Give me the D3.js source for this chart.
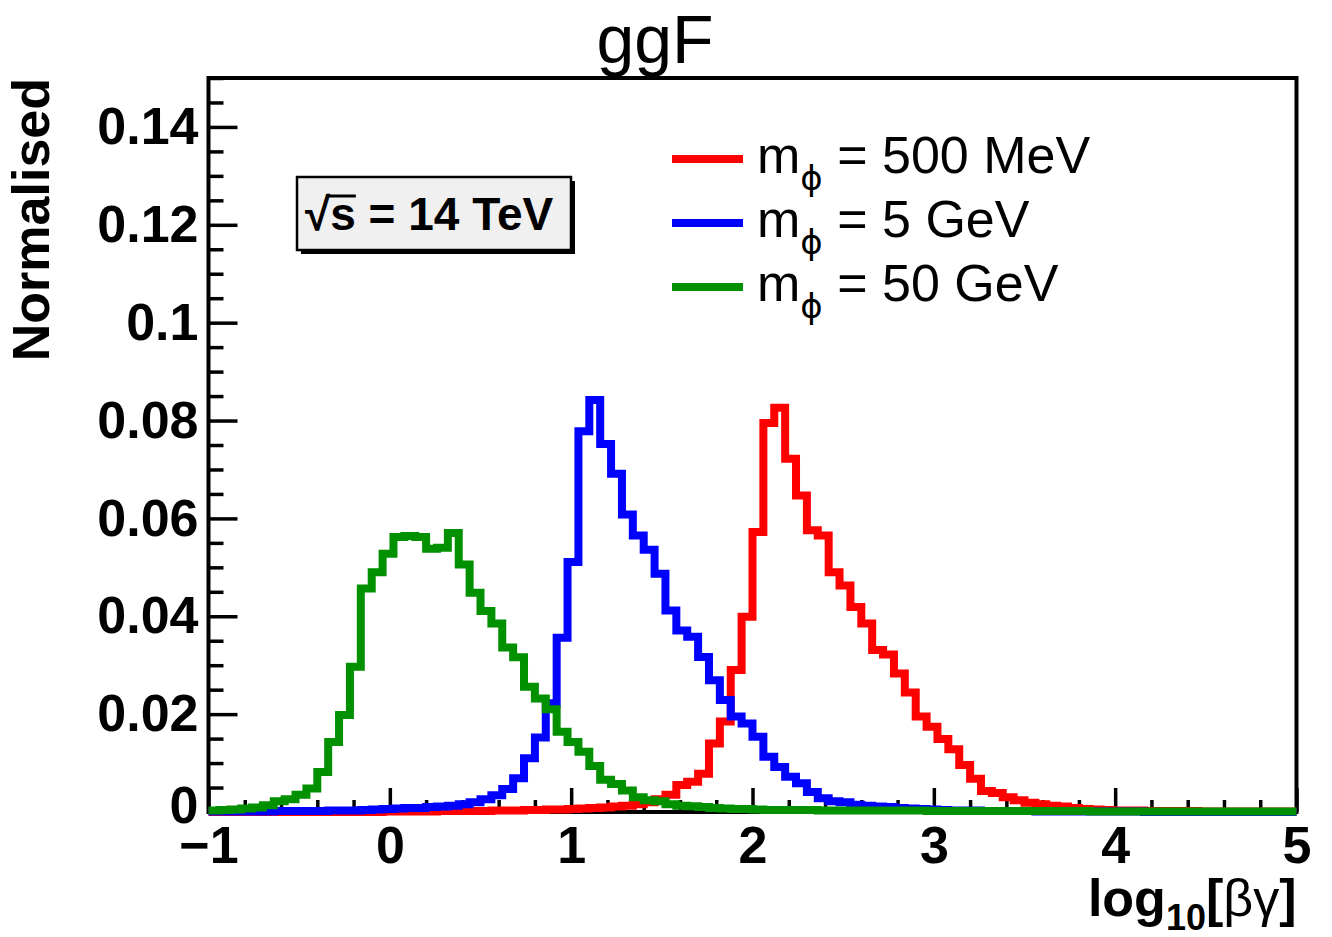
<!DOCTYPE html>
<html>
<head>
<meta charset="utf-8">
<script src="https://cdn.jsdelivr.net/npm/d3@7"></script>
<style>
  body { margin: 0; background: #fff; }
  svg text { font-family: "Liberation Sans", Arial, Helvetica, sans-serif; fill: #000; }
</style>
</head>
<body>
<svg id="chart"></svg>
<script>
// histogram binning: 100 bins from -1 to 5
const binLow = -1;
const binHigh = 5;
const nBins = 100;

// bin contents (normalised)
const mass500MeV = [
  0, 0, 0, 0, 0, 0, 0, 0, 0, 0,
  0, 0, 0, 0, 0, 0, 0.0001, 0.0001, 0.0001, 0.0001,
  0.0001, 0.0002, 0.0002, 0.0002, 0.0002, 0.0002, 0.0003, 0.0003, 0.0003, 0.0004,
  0.0004, 0.0005, 0.0005, 0.0006, 0.0007, 0.0008, 0.0009, 0.0011, 0.0013, 0.0016,
  0.0020, 0.0026, 0.0035, 0.0055, 0.0062, 0.0078, 0.0140, 0.0185, 0.0290, 0.0399,
  0.0572, 0.0795, 0.0826, 0.0722, 0.0647, 0.0576, 0.0565, 0.0490, 0.0463, 0.0419,
  0.0385, 0.0331, 0.0322, 0.0283, 0.0244, 0.0195, 0.0174, 0.0149, 0.0128, 0.0096,
  0.0068, 0.0043, 0.0039, 0.0030, 0.0024, 0.0019, 0.0016, 0.0013, 0.0011, 0.0008,
  0.0006, 0.0005, 0.0004, 0.0003, 0.0003, 0.0003, 0.0002, 0.0002, 0.0002, 0.0002,
  0.0002, 0.0001, 0.0001, 0.0001, 0.0001, 0.0001, 0.0001, 0.0001, 0.0001, 0.0001
];

const mass5GeV = [
  0.0001, 0.0001, 0.0001, 0.0001, 0.0001, 0.0001, 0.0002, 0.0002, 0.0002, 0.0002,
  0.0002, 0.0003, 0.0003, 0.0003, 0.0004, 0.0005, 0.0006, 0.0007, 0.0008, 0.0008,
  0.0010, 0.0011, 0.0013, 0.0016, 0.0020, 0.0026, 0.0034, 0.0047, 0.0069, 0.0110,
  0.0152, 0.0222, 0.0356, 0.0511, 0.0778, 0.0842, 0.0752, 0.0691, 0.0608, 0.0565,
  0.0536, 0.0487, 0.0412, 0.0371, 0.0358, 0.0317, 0.0269, 0.0229, 0.0195, 0.0181,
  0.0154, 0.0113, 0.0092, 0.0072, 0.0059, 0.0041, 0.0028, 0.0022, 0.0020, 0.0015,
  0.0013, 0.0011, 0.0010, 0.0008, 0.0007, 0.0006, 0.0005, 0.0004, 0.0003, 0.0003,
  0.0003, 0.0002, 0.0002, 0.0002, 0.0002, 0.0002, 0.0001, 0.0001, 0.0001, 0.0001,
  0.0001, 0.0001, 0.0001, 0.0001, 0.0001, 0.0001, 0, 0, 0, 0,
  0, 0, 0, 0, 0, 0, 0, 0, 0, 0
];

const mass50GeV = [
  0.0003, 0.0004, 0.0005, 0.0007, 0.0009, 0.0014, 0.0022, 0.0026, 0.0035, 0.0048,
  0.0082, 0.0143, 0.0198, 0.0297, 0.0457, 0.0490, 0.0528, 0.0562, 0.0564, 0.0562,
  0.0538, 0.0540, 0.0570, 0.0506, 0.0448, 0.0411, 0.0385, 0.0336, 0.0316, 0.0256,
  0.0232, 0.0210, 0.0164, 0.0143, 0.0123, 0.0094, 0.0066, 0.0057, 0.0044, 0.0030,
  0.0024, 0.0022, 0.0016, 0.0013, 0.0012, 0.0010, 0.0008, 0.0007, 0.0006, 0.0006,
  0.0005, 0.0004, 0.0004, 0.0004, 0.0004, 0.0004, 0.0003, 0.0003, 0.0003, 0.0003,
  0.0003, 0.0003, 0.0003, 0.0003, 0.0003, 0.0003, 0.0002, 0.0002, 0.0002, 0.0002,
  0.0002, 0.0002, 0.0002, 0.0002, 0.0002, 0.0002, 0.0002, 0.0002, 0.0002, 0.0002,
  0.0002, 0.0001, 0.0001, 0.0001, 0.0001, 0.0001, 0.0001, 0.0001, 0.0001, 0.0001,
  0.0001, 0.0001, 0.0001, 0.0001, 0.0001, 0.0001, 0.0001, 0.0001, 0.0001, 0.0001
];

const legendLabels = ["500 MeV", "5 GeV", "50 GeV"];
const seriesColors = ["#ff0000", "#0000ff", "#009000"];

const xTicks = [-1, 0, 1, 2, 3, 4, 5];
const xTickLabels = ["\u22121", "0", "1", "2", "3", "4", "5"];
const yTicks = [0, 0.02, 0.04, 0.06, 0.08, 0.1, 0.12, 0.14];
const yTickLabels = ["0", "0.02", "0.04", "0.06", "0.08", "0.1", "0.12", "0.14"];

const width = 1332;
const height = 937;
const frame = { left: 208.5, right: 1296.5, top: 78, bottom: 812 };

const svg = d3.select("#chart")
  .attr("width", width)
  .attr("height", height);

const xScale = d3.scaleLinear()
  .domain([binLow, binHigh])
  .range([frame.left, frame.right]);

const yScale = d3.scaleLinear()
  .domain([0, 0.15])
  .range([frame.bottom, frame.top]);

// title
svg.append("text")
  .attr("x", 655)
  .attr("y", 63)
  .attr("text-anchor", "middle")
  .style("font-size", "68px")
  .text("ggF");

// axes (ticks point into the frame, like ROOT)
const styleAxis = (g) => {
  g.select(".domain").remove();
  g.selectAll(".tick line").attr("stroke", "#000").attr("stroke-width", 3.5);
  g.selectAll("text")
    .style("font-size", "52px")
    .style("font-weight", "bold")
    .style("font-family", "'Liberation Sans', Arial, sans-serif")
    .attr("fill", "#000");
};

const xMinor = d3.range(-1, 5.0001, 0.2).filter(v => Math.abs(v - Math.round(v)) > 1e-6);
const yMinor = d3.range(0, 0.15001, 0.005).filter(v => Math.abs(v / 0.02 - Math.round(v / 0.02)) > 1e-6);

svg.append("g")
  .attr("transform", "translate(0," + frame.bottom + ")")
  .call(d3.axisBottom(xScale).tickValues(xMinor).tickSize(-12).tickFormat(""))
  .call(styleAxis);

svg.append("g")
  .attr("id", "x-axis")
  .attr("transform", "translate(0," + frame.bottom + ")")
  .call(d3.axisBottom(xScale)
    .tickValues(xTicks)
    .tickSize(-24)
    .tickPadding(14)
    .tickFormat((d, i) => xTickLabels[i]))
  .call(styleAxis);

svg.append("g")
  .attr("transform", "translate(" + frame.left + ",0)")
  .call(d3.axisLeft(yScale).tickValues(yMinor).tickSize(-15).tickFormat(""))
  .call(styleAxis);

svg.append("g")
  .attr("id", "y-axis")
  .attr("transform", "translate(" + frame.left + ",0)")
  .call(d3.axisLeft(yScale)
    .tickValues(yTicks)
    .tickSize(-29)
    .tickPadding(10)
    .tickFormat((d, i) => yTickLabels[i]))
  .call(styleAxis);

// the "0" label sits a bit higher so it clears the x labels
svg.select("#y-axis").selectAll(".tick text")
  .filter((d) => d === 0)
  .attr("dy", "0.2em");

// frame
svg.append("rect")
  .attr("x", frame.left)
  .attr("y", frame.top)
  .attr("width", frame.right - frame.left)
  .attr("height", frame.bottom - frame.top)
  .attr("fill", "none")
  .attr("stroke", "#000")
  .attr("stroke-width", 4);

// histograms
const binWidth = (binHigh - binLow) / nBins;
const toSteps = (vals) => vals.map((v, i) => [binLow + i * binWidth, v])
  .concat([[binHigh, vals[vals.length - 1]]]);

const stepLine = d3.line()
  .x(d => xScale(d[0]))
  .y(d => yScale(d[1]))
  .curve(d3.curveStepAfter);

const allSeries = [mass500MeV, mass5GeV, mass50GeV];

svg.append("g")
  .selectAll("path")
  .data(allSeries)
  .enter()
  .append("path")
  .attr("d", d => stepLine(toSteps(d)))
  .attr("fill", "none")
  .attr("stroke", (d, i) => seriesColors[i])
  .attr("stroke-width", 8)
  .attr("stroke-linejoin", "miter");

// axis titles
svg.append("text")
  .attr("transform", "translate(49," + frame.top + ") rotate(-90)")
  .attr("text-anchor", "end")
  .style("font-size", "52px")
  .style("font-weight", "bold")
  .text("Normalised");

const xTitle = svg.append("text")
  .attr("x", frame.right)
  .attr("y", 916)
  .attr("text-anchor", "end")
  .style("font-size", "52px")
  .style("font-weight", "bold");
xTitle.append("tspan").text("log");
xTitle.append("tspan").attr("dy", 14).style("font-size", "36px").text("10");
xTitle.append("tspan").attr("dy", -14).text("[");
xTitle.append("tspan").style("font-weight", "normal").text("\u03b2\u03b3");
xTitle.append("tspan").text("]");

// legend
const legend = svg.append("g");
legendLabels.forEach((label, i) => {
  const ly = 159 + i * 64;
  legend.append("line")
    .attr("x1", 672).attr("x2", 743)
    .attr("y1", ly).attr("y2", ly)
    .attr("stroke", seriesColors[i])
    .attr("stroke-width", 8);
  const t = legend.append("text")
    .attr("x", 757)
    .attr("y", ly + 14)
    .style("font-size", "52px");
  t.append("tspan").text("m");
  t.append("tspan").attr("dy", 17).style("font-size", "34px")
    .style("font-family", "'DejaVu Sans', 'Liberation Sans', sans-serif").text("\u03d5");
  t.append("tspan").attr("dy", -17).text(" = " + label);
});

// sqrt(s) box with shadow
const box = { x: 297, y: 177, w: 274, h: 73 };
svg.append("rect")
  .attr("x", box.x + 4).attr("y", box.y + 4)
  .attr("width", box.w).attr("height", box.h)
  .attr("fill", "#000");
svg.append("rect")
  .attr("x", box.x).attr("y", box.y)
  .attr("width", box.w).attr("height", box.h)
  .attr("fill", "#f0f0f0")
  .attr("stroke", "#000")
  .attr("stroke-width", 2.5);

const energy = svg.append("text")
  .attr("x", 305)
  .attr("y", 230)
  .style("font-size", "46px")
  .style("font-weight", "bold");
energy.append("tspan").text("\u221a");
energy.append("tspan").text("s = 14 TeV");

const en = energy.node();
const radW = en.getSubStringLength(0, 1);
const sW = en.getSubStringLength(1, 1);
svg.append("line")
  .attr("x1", 305 + radW * 0.85)
  .attr("x2", 305 + radW + sW)
  .attr("y1", 196).attr("y2", 196)
  .attr("stroke", "#000")
  .attr("stroke-width", 3);
</script>
</body>
</html>
